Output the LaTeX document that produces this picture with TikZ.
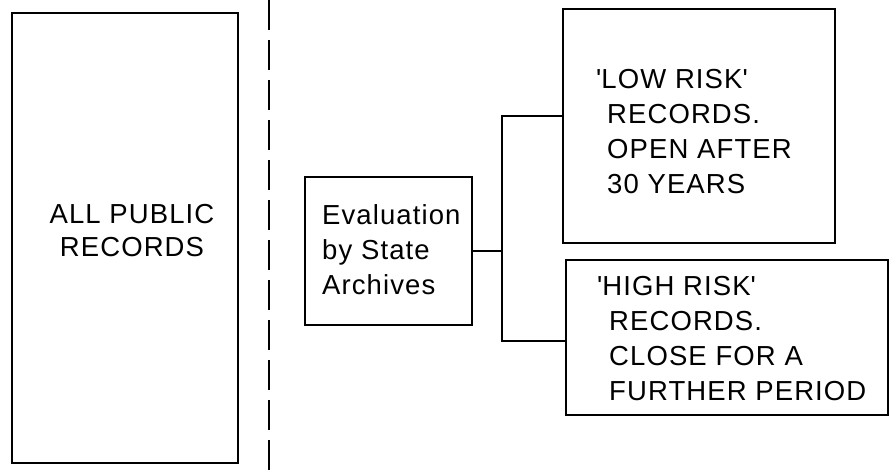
\documentclass[tikz,border=0pt]{standalone}
\usepackage{fontspec}
\newfontfamily\lab[LetterSpace=4]{Liberation Sans}
\begin{document}
\begin{tikzpicture}[x=1pt,y=-1pt,
  box/.style={draw, line width=1.6pt, inner sep=0pt, anchor=center},
  txt/.style={inner sep=0pt, font=\fontsize{27.5}{35}\lab, anchor=north west, align=left},
  conn/.style={line width=1.6pt}]
\useasboundingbox (0,0) rectangle (890,471);
% boxes
\node[box, minimum width=226pt, minimum height=450pt] (all) at (125,238) {};
\node[box, minimum width=167pt, minimum height=148pt] (eval) at (388.5,251) {};
\node[box, minimum width=272pt, minimum height=234pt] (low) at (699,126) {};
\node[box, minimum width=322pt, minimum height=155pt] (high) at (727,337.5) {};
% texts
\node[txt, align=center, anchor=north, font=\fontsize{27.5}{33}\lab] (allt) at (132,204) {ALL PUBLIC\\RECORDS};
\node[txt] (evalt) at (322,204) {Evaluation\\by State\\Archives};
\node[txt] (lowt) at (607,69) {\hspace*{-11pt}\textquotesingle LOW RISK\textquotesingle\\RECORDS.\\OPEN AFTER\\30 YEARS};
\node[txt] (hight) at (609,276) {\hspace*{-12pt}\textquotesingle HIGH RISK\textquotesingle\\RECORDS.\\CLOSE FOR A\\FURTHER PERIOD};
% dashed divider
\coordinate (dtop) at (269,0);
\coordinate (dbot) at (269,471);
\draw[line width=1.6pt, dash pattern=on 30pt off 10pt] (dtop) -- (dbot);
% connectors
\coordinate (jt) at (502,116);
\coordinate (jb) at (502,341);
\draw[conn] (eval.east) -- (eval.east -| jt);
\draw[conn] (low.west |- jt) -- (jt) -- (jb) -- (high.west |- jb);
\end{tikzpicture}
\end{document}
